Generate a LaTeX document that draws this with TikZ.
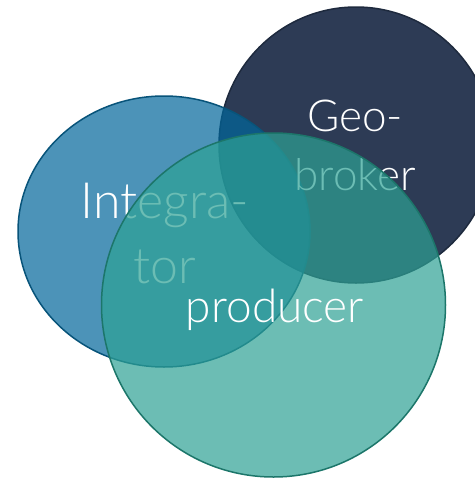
\documentclass[tikz,border=0pt]{standalone}
\usepackage{fontspec}
\setmainfont{Lato}[UprightFont={* Light}]
\definecolor{navyfill}{RGB}{45,59,85}
\definecolor{navyline}{RGB}{30,42,62}
\definecolor{bluefill}{RGB}{0,102,155}
\definecolor{blueline}{RGB}{8,84,122}
\definecolor{tealfill}{RGB}{46,162,149}
\definecolor{tealline}{RGB}{28,118,106}
\begin{document}
\begin{tikzpicture}[x=1pt,y=-1pt,
  ring/.style={line width=1.5pt},
  lbl/.style={anchor=base,text=white,inner sep=0pt}]
\useasboundingbox (0,0) rectangle (474,479);
\fill[white] (0,0) rectangle (474,479);
% geo-broker circle
\draw[ring,draw=navyline,fill=navyfill] (356,145) ellipse [x radius=137, y radius=138];
% integrator circle
\draw[ring,draw=blueline,fill=bluefill,fill opacity=0.7] (164,231.5) ellipse [x radius=146, y radius=135.5];
\node[lbl,font=\fontsize{50}{60}\selectfont] (int1) at (165,218) {Integra-};
\node[lbl,font=\fontsize{50}{60}\selectfont] (int2) at (165,283) {tor};
\node[lbl,font=\fontsize{44}{54}\selectfont] (geo1) at (355,131) {Geo-};
\node[lbl,font=\fontsize{44}{54}\selectfont] (geo2) at (355,190) {broker};
% producer circle
\draw[ring,draw=tealline,fill=tealfill,fill opacity=0.7] (273.5,305) circle [radius=172];
\node[lbl,font=\fontsize{46}{56}\selectfont] (prod) at (275,322) {producer};
\end{tikzpicture}
\end{document}
